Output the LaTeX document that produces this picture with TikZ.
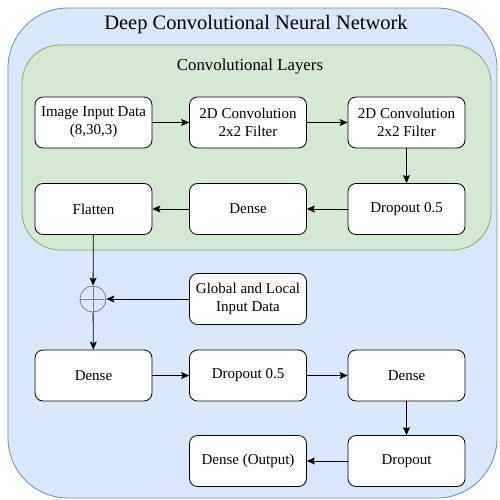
\documentclass[tikz,border=0pt]{standalone}
\usepackage{fontspec}
\setmainfont{Liberation Serif}
\usetikzlibrary{positioning,arrows.meta}
\usepackage{color}
\definecolor{netfill}{HTML}{DAE8FC}
\definecolor{netline}{HTML}{6C8EBF}
\definecolor{convfill}{HTML}{D5E8D4}
\definecolor{convline}{HTML}{82B366}

\begin{document}
\begin{tikzpicture}[x=1pt,y=-1pt,>={Stealth[length=8pt,width=7pt,inset=1.5pt]},
layer/.style={draw,thick,rounded corners=8pt,fill=white,minimum width=117pt,minimum height=51pt,align=center,font=\fontsize{15}{18}\selectfont}]

\useasboundingbox (0,0) rectangle (499,500);
\draw[netline,fill=netfill,thick,rounded corners=60pt] (8,8) rectangle (497,498);
\node[font=\fontsize{20.5}{23}\selectfont] (title) at (256,25) {Deep Convolutional Neural Network};
\draw[convline,fill=convfill,thick,rounded corners=38pt] (22,45) rectangle (491,250);
\node[font=\fontsize{16.8}{20}\selectfont] (convtitle) at (250,66) {Convolutional Layers};

% convolutional part
\node[layer] (input) at (93.5,122.5) {Image Input Data\\(8,30,3)};
\node[layer] (conv1) at (248,122.5) {2D Convolution\\2x2 Filter};
\node[layer] (conv2) at (406.5,122.5) {2D Convolution\\2x2 Filter};
\node[layer] (drop1) at (406.5,209) {Dropout 0.5};
\node[layer] (dense1) at (248,209) {Dense};
\node[layer] (flat) at (93.5,209) {Flatten};

\draw[->,thick] (input) -- (conv1);
\draw[->,thick] (conv1) -- (conv2);
\draw[->,thick] (conv2) -- (drop1);
\draw[->,thick] (drop1) -- (dense1);
\draw[->,thick] (dense1) -- (flat);

% merge with the other inputs
\node[circle,draw=gray,thick,minimum size=26pt,inner sep=0pt] (plus) at (93,299) {};
\draw[gray,thick] (plus.north) -- (plus.south) (plus.west) -- (plus.east);
\node[layer] (extra) at (248,299) {Global and Local\\Input Data};
\draw[->,thick] (flat) -- (plus);
\draw[->,thick] (extra) -- (plus);

% dense part
\node[layer] (dense2) at (93.5,375.5) {Dense};
\node[layer] (drop2) at (248,375.5) {Dropout 0.5};
\node[layer] (dense3) at (406.5,375.5) {Dense};
\node[layer] (drop3) at (406.5,461) {Dropout};
\node[layer] (out) at (248,461) {Dense (Output)};

\draw[->,thick] (plus) -- (dense2);
\draw[->,thick] (dense2) -- (drop2);
\draw[->,thick] (drop2) -- (dense3);
\draw[->,thick] (dense3) -- (drop3);
\draw[->,thick] (drop3) -- (out);

\end{tikzpicture}
\end{document}
